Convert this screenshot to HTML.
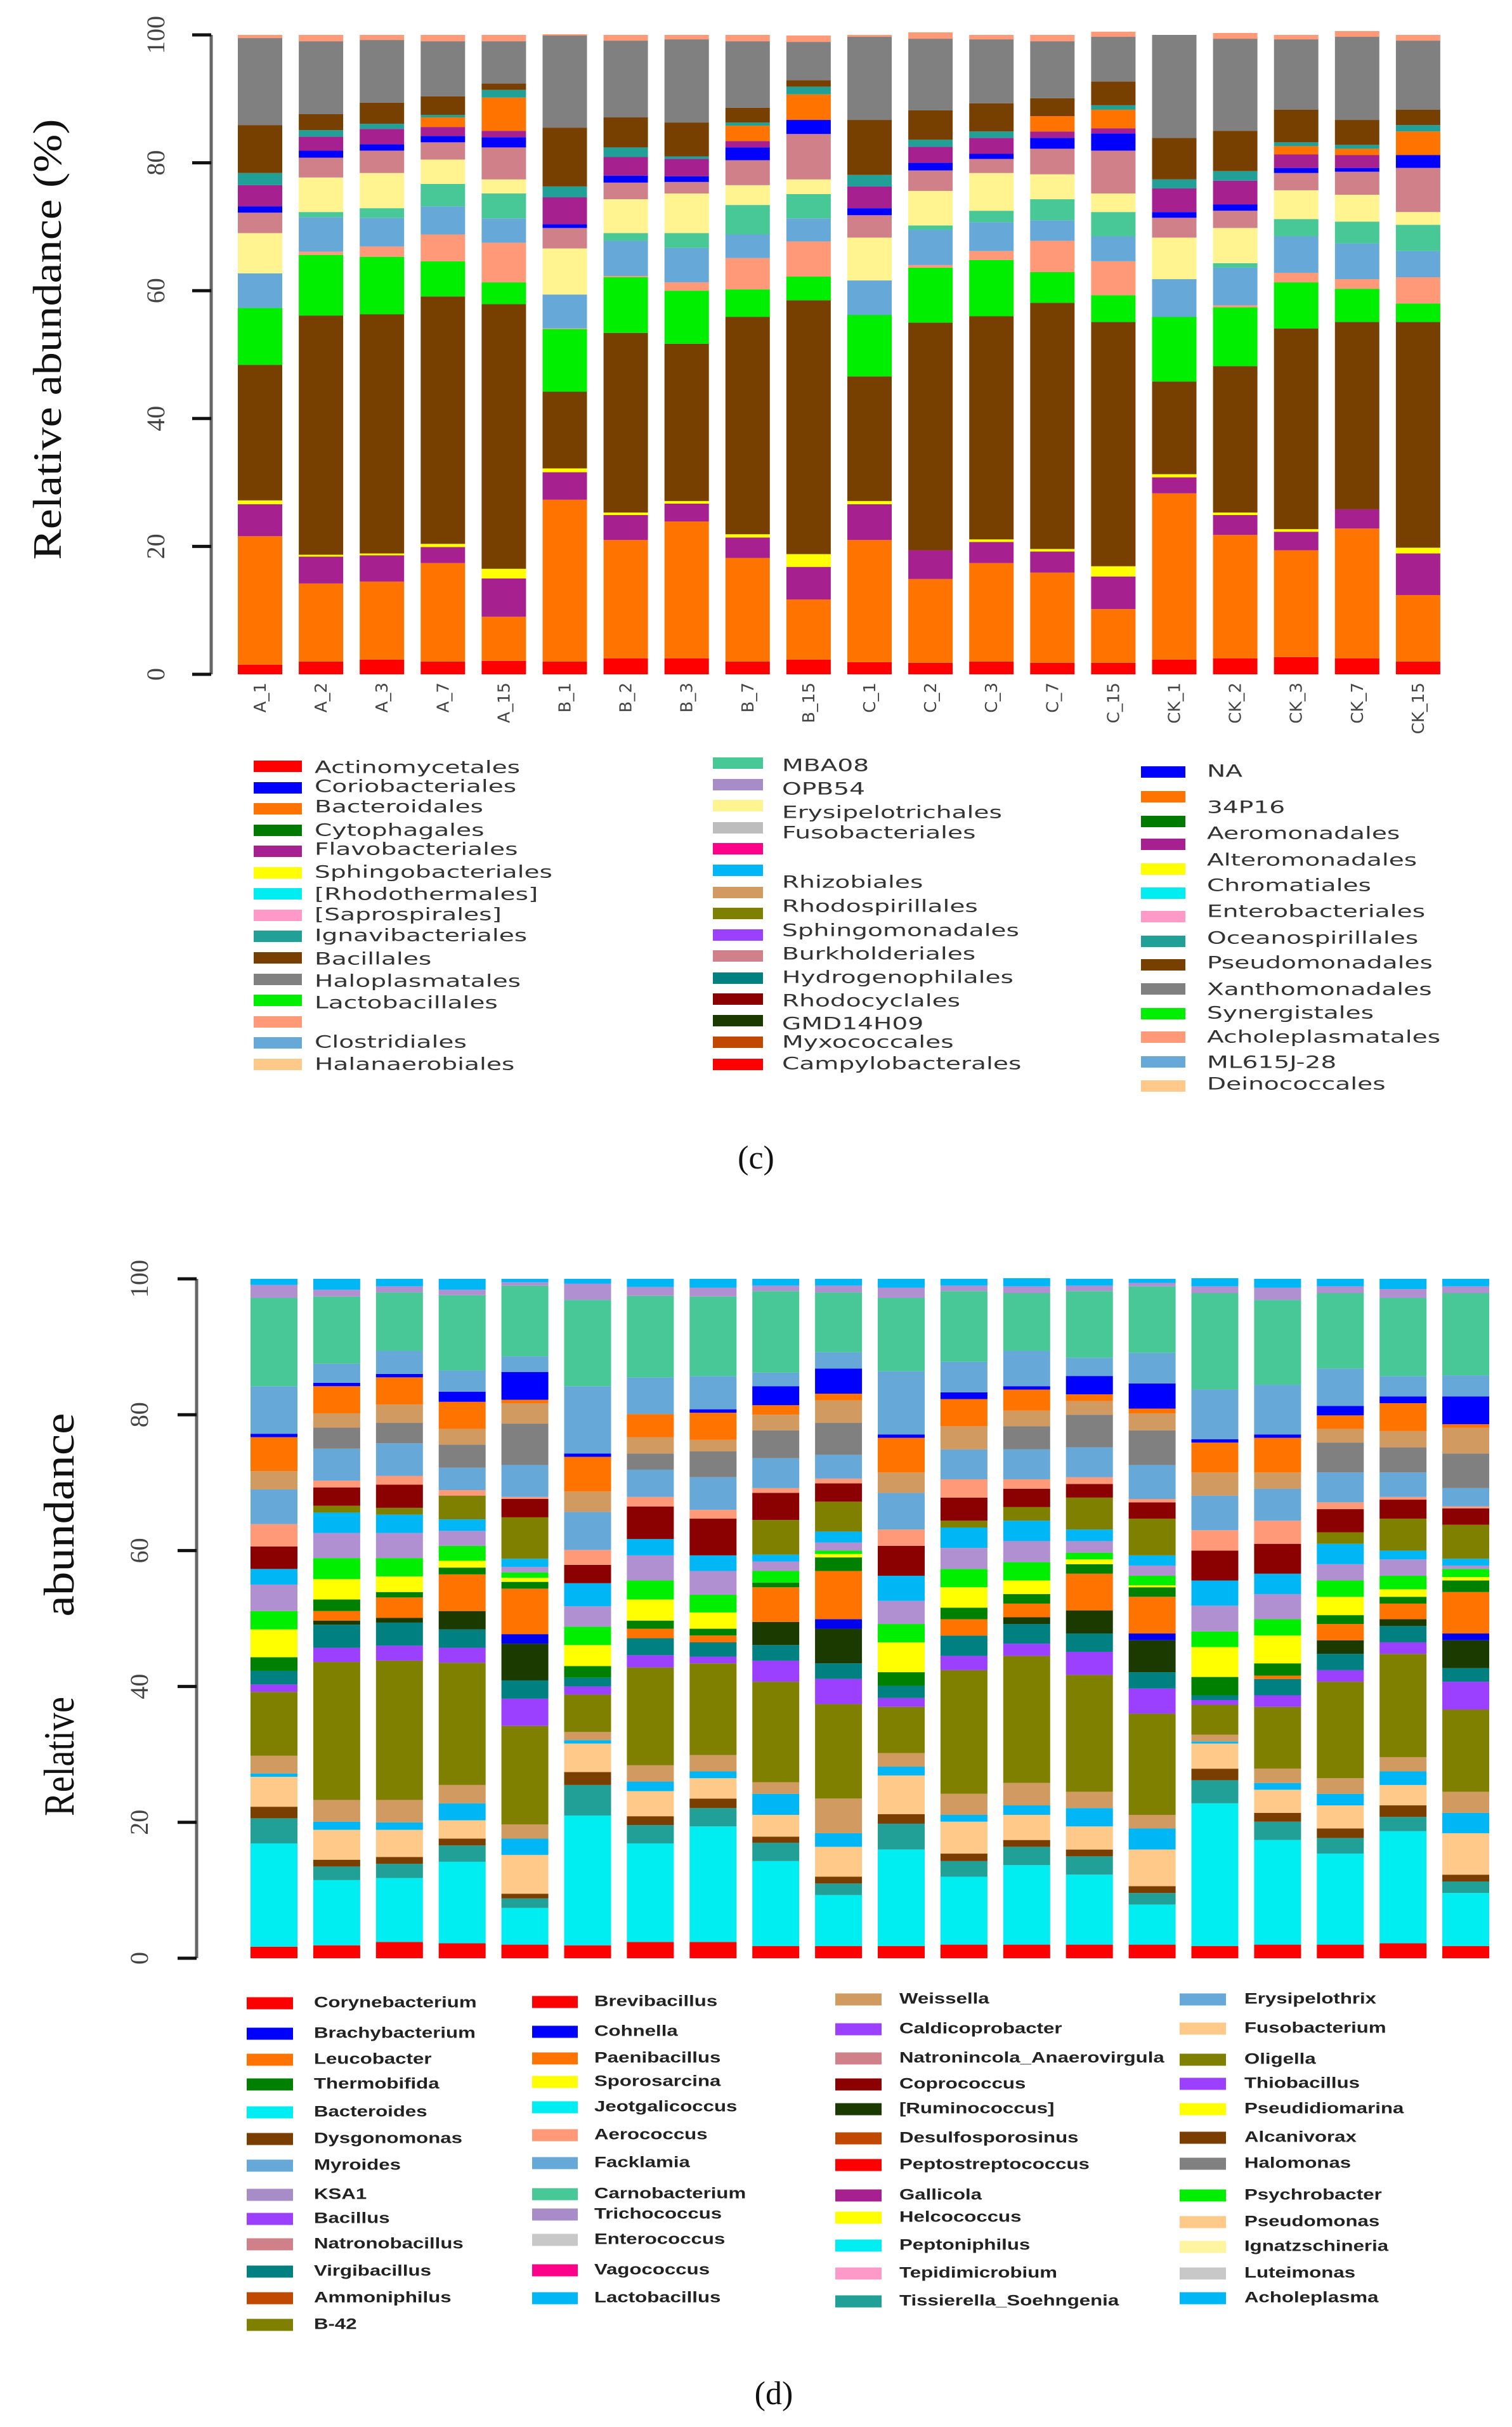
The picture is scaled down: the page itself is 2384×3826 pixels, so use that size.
<!DOCTYPE html>
<html><head><meta charset="utf-8">
<style>
html,body{margin:0;padding:0;background:#fff;}
svg{display:block;}
</style></head>
<body>
<svg id="fig" xmlns="http://www.w3.org/2000/svg" width="2384" height="3826" viewBox="0 0 2384 3826">
  <g id="topChart"></g>
  <g id="topLegend"></g>
  <text x="1192" y="1842" text-anchor="middle" font-family="Liberation Serif, serif" font-size="52" fill="#111">(c)</text>
  <g id="botChart"></g>
  <g id="botLegend"></g>
  <text x="1220" y="3790" text-anchor="middle" font-family="Liberation Serif, serif" font-size="52" fill="#111">(d)</text>
</svg>
<script>
// ---------- TOP CHART DATA ----------
const topCategories = ["A_1","A_2","A_3","A_7","A_15","B_1","B_2","B_3","B_7","B_15","C_1","C_2","C_3","C_7","C_15","CK_1","CK_2","CK_3","CK_7","CK_15"];
const topSeries = ["Actinomycetales","Bacteroidales","Flavobacteriales","Sphingobacteriales","Bacillales","Lactobacillales","Acholeplasmatales","Clostridiales","MBA08","Erysipelotrichales","Burkholderiales","NA","Alteromonadales","34P16","Oceanospirillales","Pseudomonadales","Xanthomonadales","Other"];
const topColors = ["#ff0000","#ff7300","#a6208f","#ffff00","#774000","#00ee00","#ff9977","#66a8d8","#48c896","#fff490","#d08088","#0000ff","#a6208f","#ff7300","#20a096","#774000","#808080","#ff9977"];
const topValues = [
[1.5,20.1,5,0.6,21.2,8.9,0,5.4,0,6.3,3.2,1,3.3,0,1.9,7.5,13.6,0.5],
[2,12.2,4.2,0.3,37.4,9.5,0.5,5.4,0.8,5.4,3.1,1.1,2.2,0,1,2.5,11.4,1],
[2.3,12.2,4.1,0.3,37.4,9,1.6,4.5,1.5,5.5,3.5,1,2.4,0,0.8,3.3,9.8,0.8],
[2,15.4,2.5,0.5,38.7,5.5,4.2,4.4,3.5,3.8,2.7,1,1.4,1.5,0.4,2.9,8.6,1],
[2.1,6.9,6,1.5,41.4,3.4,6.2,3.8,3.9,2.2,5,1.6,1,5.2,1.2,1,6.6,1],
[2,25.3,4.3,0.6,12,9.8,0.1,5.3,0,7.2,3.2,0.6,4.2,0,1.7,9.2,14.4,0.2],
[2.5,18.5,3.9,0.4,28.1,8.7,0.2,5.5,1.2,5.3,2.6,1.1,2.9,0,1.5,4.7,12,0.9],
[2.5,21.4,2.8,0.4,24.6,8.3,1.3,5.4,2.3,6.2,1.8,0.9,2.7,0,0.4,5.3,13,0.7],
[2,16.2,3.2,0.5,34,4.3,4.9,3.7,4.6,3.1,3.9,2,1,2.4,0.5,2.3,10.4,1],
[2.3,9.4,5.1,2,39.7,3.7,5.5,3.6,3.8,2.3,7.1,2.2,0,4,1.2,1,6,1],
[1.9,19.1,5.6,0.5,19.5,9.6,0,5.4,0,6.7,3.5,1.1,3.4,0,1.8,8.6,13,0.3],
[1.8,13.1,4.5,0,35.6,8.6,0.4,5.5,0.7,5.4,3.2,1.2,2.5,0,1.1,4.6,11.2,1],
[2,15.4,3.3,0.4,34.9,8.8,1.4,4.5,1.8,5.9,2.2,0.8,2.5,0,1,4.4,10,0.7],
[1.8,14.1,3.3,0.4,38.5,4.8,4.9,3.2,3.3,3.9,4,1.7,1,2.4,0,2.8,8.9,1],
[1.8,8.4,5.1,1.6,38.2,4.2,5.3,3.9,3.8,2.9,6.7,2.7,0.8,2.9,0.7,3.7,7,0.8],
[2.3,26,2.5,0.5,14.5,10.1,0,5.9,0,6.5,3.1,0.9,3.7,0,1.4,6.5,16.1,0],
[2.5,19.3,3.1,0.4,22.9,9.2,0.3,5.9,0.7,5.5,2.7,1,3.7,0,1.5,6.3,14.4,0.9],
[2.7,16.7,2.9,0.4,31.4,7.2,1.5,5.7,2.7,4.5,2.7,0.8,2.1,1.3,0.6,5.1,11,0.7],
[2.5,20.3,3,0,29.3,5.2,1.5,5.6,3.4,4.2,3.6,0.6,2,1,0.6,3.9,13,0.9],
[2,10.4,6.5,0.9,35.3,2.9,4.1,4.1,4.1,2,6.9,2,0,3.7,1,2.4,10.8,0.9]
];
const topTicks = [0,20,40,60,80,100];

// ---------- BOTTOM CHART DATA ----------
const botCategories = ["A_1","A_2","A_3","A_7","A_15","B_1","B_2","B_3","B_7","B_15","C_1","C_2","C_3","C_7","C_15","CK_1","CK_2","CK_3","CK_7","CK_15"];
const botSeries = ["Corynebacterium","Jeotgalicoccus","Tissierella_Soehngenia","Dysgonomonas","Fusobacterium","Lactobacillus","Weissella","Oligella","Caldicoprobacter","Virgibacillus","[Ruminococcus]","Cohnella","Paenibacillus","Thermobifida","Sporosarcina","Psychrobacter","KSA1","Acholeplasma","B-42","Coprococcus","Aerococcus","Myroides","Halomonas","Alcanivorax","Leucobacter","Brachybacterium","Facklamia","Carnobacterium","Trichococcus","Other"];
const botColors = ["#ff0000","#00eef2","#20a096","#7a3e00","#ffc98a","#00b6f5","#d09a60","#808000","#9b40ff","#008080","#1a3a00","#0000ee","#ff7300","#008000","#ffff00","#00ee00","#b090d0","#00b6f5","#808000","#8b0000","#ff9977","#66a8d8","#808080","#d09a60","#ff7300","#0000ff","#66a8d8","#48c896","#b090d0","#00b6f5"];
const botValues = [
[1.7,15.2,3.7,1.7,4.4,0.5,2.6,9.4,1.1,2,0,0,0,2,4.1,2.7,3.9,2.3,0,3.3,3.3,5.1,0,2.7,5,0.5,7,13,1.9,0.9],
[1.9,9.6,2,1,4.4,1.2,3.2,20.3,2.1,3.4,0.6,0,1.4,1.7,3,3.1,3.7,3,1,2.7,1,4.7,3.1,2.1,4,0.5,2.8,9.9,1,1.6],
[2.4,9.4,2.1,1,4,1.1,3.3,20.5,2.2,3.4,0.7,0,3,0.8,2.3,2.7,3.7,2.7,1,3.4,1.3,4.8,3,2.7,4,0.5,3.4,8.6,0.9,1.1],
[2.2,12,2.4,1,2.7,2.5,2.7,18,2.2,2.7,2.7,0,5.4,1,1,2.2,2.2,1.7,3.5,0,0.8,3.3,3.4,2.3,4,1.5,3.1,11.1,0.8,1.6],
[2,5.4,1.4,0.7,5.7,2.4,2.1,14.5,4,2.7,5.4,1.4,6.7,1,0.6,0.8,0.8,1.2,6.1,2.7,0.3,4.7,6.1,3,0.5,4.1,2.3,10.4,0.5,0.5],
[1.9,19.1,4.5,1.9,4.2,0.5,1.2,5.5,1.2,1.3,0,0,0,1.7,3.1,2.7,3,3.4,0,2.7,2.2,5.6,0,3,5.1,0.5,9.9,12.7,2.4,0.7],
[2.4,14.5,2.7,1.3,3.7,1.4,2.4,14.4,1.8,2.5,0,0,1.4,1.2,3.1,2.8,3.7,2.4,0,4.8,1.4,4,2.4,2.4,3.4,0,5.4,12,1.3,1.2],
[2.4,17,2.7,1.4,3,1,2.4,13.5,1,2.1,0,0,1,1,2.4,2.6,3.5,2.3,0,5.4,1.3,4.8,3.8,1.7,4,0.5,4.9,11.7,1.3,1.3],
[1.8,12.5,2.7,0.9,3.2,3.1,1.7,14.8,3.1,2.3,3.4,0,5.1,0.7,0,1.7,1.4,1,5.1,4,0.7,4.4,4.1,2.3,1.4,2.8,2,12,0.8,1],
[1.8,7.5,1.7,1,4.4,2,5.1,13.9,3.7,2.3,5.1,1.4,7.1,2,0.5,0.5,1.2,1.6,4.4,2.7,0.7,3.5,4.7,3.3,1,3.7,2.4,8.8,1,1],
[1.8,14.2,3.8,1.4,5.7,1.3,2,6.8,1.3,1.8,0,0,0,2,4.4,2.7,3.4,3.7,0,4.4,2.4,5.4,0,3,5.1,0.5,9.3,10.8,1.5,1.3],
[2,10,2.3,1.1,4.7,1,3.1,18.2,2.1,3,0,0,2.4,1.7,3,2.7,3.1,3,1,3.4,2.7,4.4,0,3.4,4,1,4.5,10.4,0.8,1],
[2,11.7,2.7,1,3.7,1.4,3.3,18.7,1.8,2.9,1,0,2,1.4,2,2.7,3.1,3,2,2.7,1.4,4.4,3.4,2.3,3.1,0.5,5.2,8.5,1,1.2],
[2,10.3,2.7,1,3.4,2.7,2.4,17.2,3.4,2.7,3.4,0,5.4,1.4,0.7,1,1.7,1.7,4.7,2,1,4.4,4.8,2,1,2.7,2.7,9.8,0.8,1],
[2,5.9,1.7,1,5.4,3.1,2,14.9,3.7,2.4,4.7,1,5.4,1.4,0.3,1.4,1.5,1.5,5.4,2.4,0.5,5,5.1,2.5,0.7,3.7,4.5,9.8,0.5,0.6],
[1.8,21,3.4,1.7,3.7,0.3,1,4.4,0.7,0.7,0,0,0,2.7,4.4,2.3,3.8,3.7,0,4.4,3,5.1,0,3.4,4.4,0.5,7.3,14.2,1,1.2],
[2,15.4,2.7,1.3,3.4,1,2.1,9.1,1.7,2.4,0,0,0.5,1.8,4.1,2.4,3.7,3,0,4.4,3.4,4.7,0,2.4,5.1,0.5,7.3,12.5,1.8,1.3],
[2,13.4,2.3,1.4,3.4,1.7,2.3,14.2,1.7,2.4,2,0,2.4,1.3,2.7,2.4,2.4,3,1.7,3.4,1,4.4,4.4,2,2,1.4,5.5,11.1,1,1.1],
[2.2,16.5,2.1,1.7,3,2,2.1,15.2,1.7,2.4,1,0,2.3,1,1.1,2,2.4,1.3,4.7,2.8,0.4,3.6,3.7,2.4,4.1,1,3,11.5,1.3,1.5],
[1.8,7.8,1.7,1,6.1,3,3.1,12.1,4.1,2,4.1,1,6.1,1.7,0.5,1.2,0.5,1,5,2.4,0.3,2.7,5.1,3.8,0.5,4.1,3.1,12.1,1,1.1]
];
const botTicks = [0,20,40,60,80,100];

// ---------- LEGEND DATA ----------
const topLegendLabels = [
 ["Actinomycetales","Coriobacteriales","Bacteroidales","Cytophagales","Flavobacteriales","Sphingobacteriales","[Rhodothermales]","[Saprospirales]","Ignavibacteriales","Bacillales","Haloplasmatales","Lactobacillales","","Clostridiales","Halanaerobiales"],
 ["MBA08","OPB54","Erysipelotrichales","Fusobacteriales","","","Rhizobiales","Rhodospirillales","Sphingomonadales","Burkholderiales","Hydrogenophilales","Rhodocyclales","GMD14H09","Myxococcales","Campylobacterales"],
 ["NA","34P16","Aeromonadales","Alteromonadales","Chromatiales","Enterobacteriales","Oceanospirillales","Pseudomonadales","Xanthomonadales","Synergistales","Acholeplasmatales","ML615J-28","Deinococcales"]
];
const topLegendColors = [
 ["#ff0000","#0000ff","#ff7300","#007a00","#a6208f","#ffff00","#00eef2","#ff9ac8","#20a096","#774000","#808080","#00ee00","#ff9977","#66a8d8","#ffc98a"],
 ["#48c896","#a88cc8","#fff490","#bdbdbd","#ff0088","#00b6f5","#d09a60","#808000","#9b40ff","#d08088","#008080","#8b0000","#1a3a00","#c04800","#ff0000"],
 ["#0000ff","#ff7300","#007a00","#a6208f","#ffff00","#00eef2","#ff9ac8","#20a096","#774000","#808080","#00ee00","#ff9977","#66a8d8","#ffc98a"]
];
const botLegendLabels = [
 ["Corynebacterium","Brachybacterium","Leucobacter","Thermobifida","Bacteroides","Dysgonomonas","Myroides","KSA1","Bacillus","Natronobacillus","Virgibacillus","Ammoniphilus","B-42"],
 ["Brevibacillus","Cohnella","Paenibacillus","Sporosarcina","Jeotgalicoccus","Aerococcus","Facklamia","Carnobacterium","Trichococcus","Enterococcus","Vagococcus","Lactobacillus"],
 ["Weissella","Caldicoprobacter","Natronincola_Anaerovirgula","Coprococcus","[Ruminococcus]","Desulfosporosinus","Peptostreptococcus","Gallicola","Helcococcus","Peptoniphilus","Tepidimicrobium","Tissierella_Soehngenia"],
 ["Erysipelothrix","Fusobacterium","Oligella","Thiobacillus","Pseudidiomarina","Alcanivorax","Halomonas","Psychrobacter","Pseudomonas","Ignatzschineria","Luteimonas","Acholeplasma"]
];
const botLegendColors = [
 ["#ff0000","#0000ff","#ff7300","#008000","#00eef2","#7a3e00","#66a8d8","#a88cc8","#9b40ff","#d08088","#008080","#c04800","#808000"],
 ["#ff0000","#0000ff","#ff7300","#ffff00","#00eef2","#ff9977","#66a8d8","#48c896","#a88cc8","#c8c8c8","#ff0088","#00b6f5"],
 ["#d09a60","#9b40ff","#d08088","#8b0000","#1a3a00","#c04800","#ff0000","#a6208f","#ffff00","#00eef2","#ff9ac8","#20a096"],
 ["#66a8d8","#ffc98a","#808000","#9b40ff","#ffff00","#7a3e00","#808080","#00ee00","#ffc98a","#fff4a0","#c8c8c8","#00b6f5"]
];

const NS = "http://www.w3.org/2000/svg";
function mk(tag, attrs, parent){
  const e = document.createElementNS(NS, tag);
  for (const k in attrs) e.setAttribute(k, attrs[k]);
  parent.appendChild(e);
  return e;
}

function drawChart(g, cats, values, colors, seriesNames, ticks, cfg){
  const yScale = v => cfg.y0 - (v / 100) * (cfg.y0 - cfg.y100);
  const xScale = i => cfg.x0 + i * cfg.step;
  // bars
  cats.forEach((cat, i) => {
    const bg = mk("g", {}, g);
    
    
    let cum = 0;
    values[i].forEach((v, s) => {
      if (v <= 0) return;
      const yTop = yScale(cum + v), yBot = yScale(cum);
      const r = mk("rect", {x: xScale(i) - cfg.bw/2, y: yTop, width: cfg.bw, height: Math.max(0, yBot - yTop), fill: colors[s]}, bg);
      
      
      cum += v;
    });
    if (cfg.showLabels) {
      const lx = xScale(i) + 9, ly = cfg.labelY;
      const t = mk("text", {x: lx, y: ly, transform: "rotate(-90 " + lx + " " + ly + ")", "text-anchor": "end", "font-family": "DejaVu Sans, sans-serif", "font-size": 26, fill: "#444"}, g);
      t.textContent = cat;
      
      
    }
  });
  // axis
  const ax = mk("line", {x1: cfg.axisX, x2: cfg.axisX, y1: yScale(100), y2: yScale(0), stroke: "#666", "stroke-width": 5}, g);
  
  
  ticks.forEach(t => {
    const y = yScale(t);
    const tl = mk("line", {x1: cfg.axisX - 30, x2: cfg.axisX, y1: y, y2: y, stroke: "#111", "stroke-width": 5}, g);
    
    
    const tx = mk("text", {x: cfg.tickLabelX, y: y, transform: "rotate(-90 " + cfg.tickLabelX + " " + y + ")", "text-anchor": "middle", "dominant-baseline": "middle", "font-family": "Liberation Serif, serif", "font-size": 40, fill: "#444"}, g);
    tx.textContent = t;
    
    
  });
}

drawChart(document.getElementById("topChart"), topCategories, topValues, topColors, topSeries, topTicks,
  {y0: 1063, y100: 55, x0: 410, step: 96.1, bw: 70, axisX: 333, tickLabelX: 250, showLabels: true, labelY: 1076});
drawChart(document.getElementById("botChart"), botCategories, botValues, botColors, botSeries, botTicks,
  {y0: 3087, y100: 2016, x0: 432, step: 98.9, bw: 74, axisX: 310, tickLabelX: 224, showLabels: false});

// axis titles
(function(){
  const top = document.getElementById("topChart");
  const t1 = mk("text", {x: 0, y: 0, transform: "translate(96 535) rotate(-90)", "text-anchor": "middle", "font-family": "Liberation Serif, serif", "font-size": 64, fill: "#111", textLength: 695, lengthAdjust: "spacingAndGlyphs"}, top);
  t1.textContent = "Relative abundance (%)";
  
  
  const bot = document.getElementById("botChart");
  const t2 = mk("text", {x: 0, y: 0, transform: "translate(116 2769) rotate(-90)", "text-anchor": "middle", "font-family": "Liberation Serif, serif", "font-size": 68, fill: "#111", textLength: 188, lengthAdjust: "spacingAndGlyphs"}, bot);
  t2.textContent = "Relative";
  
  
  const t3 = mk("text", {x: 0, y: 0, transform: "translate(116 2388) rotate(-90)", "text-anchor": "middle", "font-family": "Liberation Serif, serif", "font-size": 68, fill: "#111", textLength: 321, lengthAdjust: "spacingAndGlyphs"}, bot);
  t3.textContent = "abundance";
  
  
})();

// ---------- LEGENDS ----------
function drawLegend(g, labels, colors, cols){
  cols.forEach((c, ci) => {
    colors[ci].forEach((col, ri) => {
      const sy = c.swY[ri];
      const sw = mk("rect", {x: c.sx, y: sy - c.sh/2, width: c.sw, height: c.sh, fill: col}, g);
      
      
    });
    labels[ci].forEach((lab, ri) => {
      if (!lab) return;
      const ty = c.txY[ri];
      const t = mk("text", {x: 0, y: 0, transform: "translate(" + c.tx + " " + ty + ") scale(" + c.scale + " 1)", "dominant-baseline": "middle", "font-family": c.font, "font-size": c.fs, "font-weight": c.fw, fill: c.fill}, g);
      t.textContent = lab;
      
      
    });
  });
}
const top1Y = [1208,1242,1275,1309,1342,1376,1409,1443,1476,1510,1544,1577,1611,1644,1678];
const top1T = [1211,1241,1273,1310,1340,1376,1411,1443,1476,1513,1548,1582,1611,1644,1679];
const top2Y = [1203,1237,1270,1305,1338,1372,1407,1440,1474,1507,1542,1575,1609,1643,1678];
const top2T = [1208,1245,1282,1314,1338,1372,1392,1430,1468,1505,1542,1579,1615,1644,1678];
const top3Y = [1217,1256,1295,1331,1370,1408,1445,1484,1521,1559,1598,1635,1674,1712];
const top3T = [1217,1274,1315,1357,1397,1438,1480,1519,1561,1598,1636,1676,1710];
drawLegend(document.getElementById("topLegend"), topLegendLabels, topLegendColors, [
  {sx: 400, sw: 76, sh: 18, swY: top1Y, tx: 496, txY: top1T, scale: 1.45, fs: 27, fw: "normal", font: "DejaVu Sans, sans-serif", fill: "#333"},
  {sx: 1124, sw: 79, sh: 18, swY: top2Y, tx: 1233, txY: top2T, scale: 1.45, fs: 27, fw: "normal", font: "DejaVu Sans, sans-serif", fill: "#333"},
  {sx: 1799, sw: 70, sh: 18, swY: top3Y, tx: 1903, txY: top3T, scale: 1.45, fs: 27, fw: "normal", font: "DejaVu Sans, sans-serif", fill: "#333"}
]);
const b1Y = [3158,3206,3247,3286,3330,3372,3414,3460,3498,3538,3581,3623,3665];
const b2Y = [3156,3203,3245,3282,3322,3366,3410,3459,3491,3531,3579,3623];
const b3Y = [3152,3199,3245,3286,3325,3371,3413,3461,3496,3540,3584,3628];
const b4Y = [3152,3198,3247,3285,3325,3370,3411,3461,3503,3542,3584,3623];
drawLegend(document.getElementById("botLegend"), botLegendLabels, botLegendColors, [
  {sx: 389, sw: 73, sh: 19, swY: b1Y, tx: 495, txY: b1Y, scale: 1.3, fs: 24, fw: "bold", font: "Liberation Sans, sans-serif", fill: "#222"},
  {sx: 839, sw: 72, sh: 19, swY: b2Y, tx: 937, txY: b2Y, scale: 1.3, fs: 24, fw: "bold", font: "Liberation Sans, sans-serif", fill: "#222"},
  {sx: 1317, sw: 73, sh: 19, swY: b3Y, tx: 1418, txY: b3Y, scale: 1.3, fs: 24, fw: "bold", font: "Liberation Sans, sans-serif", fill: "#222"},
  {sx: 1860, sw: 73, sh: 19, swY: b4Y, tx: 1962, txY: b4Y, scale: 1.3, fs: 24, fw: "bold", font: "Liberation Sans, sans-serif", fill: "#222"}
]);
</script>
</body></html>
